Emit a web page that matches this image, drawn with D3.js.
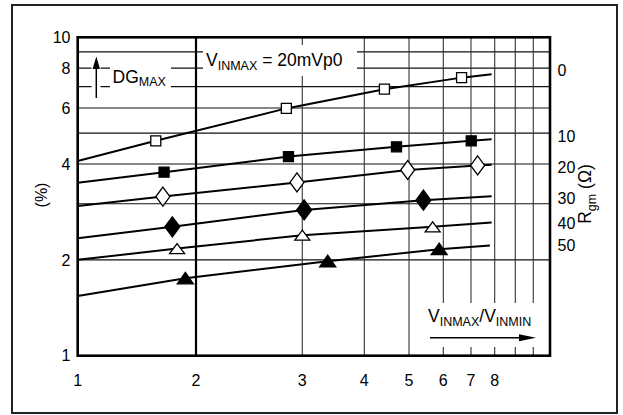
<!DOCTYPE html>
<html><head><meta charset="utf-8">
<script src="https://cdn.jsdelivr.net/npm/d3@7"></script>
<style>body{margin:0;background:#fff}svg{display:block}text{font-family:"Liberation Sans",Arial,sans-serif;fill:#000}</style>
</head><body><svg id="c" width="623" height="415"></svg>
<script>
// ---- data ----
const xTickLabels = [1,2,3,4,5,6,7,8];
const xGridValues = [2,3,4,5,6,7,8,9,10];
const yTickLabels = [1,2,4,6,8,10];
const yGridValues = [2,3,4,5,6,7,8,9];
const rgmLabels = ["0","10","20","30","40","50"];
const rgmLevels = [7.9,4.9,3.92,3.13,2.6,2.23];
const startX = [1,1,1,1,1,1];
const startY = [4.09,3.49,2.95,2.34,2.0,1.54];
const markerX = [[1.66,2.85,4.45,6.66],[1.73,2.87,4.72,7.01],[1.72,2.95,4.97,7.28],[1.80,3.03,5.42],[1.84,3.0,5.69],[1.91,3.41,5.88]];
const markerY = [[4.73,5.98,6.87,7.47],[3.77,4.22,4.53,4.73],[3.16,3.50,3.83,3.96],[2.54,2.87,3.08],[2.17,2.39,2.54],[1.75,1.98,2.16]];
const endX = [7.87,7.87,7.87,7.87,7.87,7.80];
const endY = [7.65,4.78,3.98,3.17,2.62,2.22];
const markerType = ["sqOpen","sqFill","diaOpen","diaFill","triOpen","triFill"];

// ---- layout ----
const L=77.7,R=550,T=37.3,B=355.7,W=R-L;
const xDomain=[1,2,3,4,5,6,7,8,9,10,11];
const xFrac=[0,.2505,.4755,.6068,.7015,.7741,.8327,.8829,.9265,.9646,1];
const x=d3.scaleLinear().domain(xDomain).range(xFrac.map(f=>L+f*W));
const y=d3.scaleLog().domain([1,10]).range([B,T]);
const svg=d3.select("#c");
const FM=17.5, FS=12.5;

// outer frame
svg.append("rect").attr("x",12).attr("y",5).attr("width",605).attr("height",408)
  .attr("fill","#fff").attr("stroke","#222").attr("stroke-width",2);

// grid
const g=svg.append("g");
g.selectAll(".hg").data(yGridValues).join("line")
  .attr("x1",L).attr("x2",R).attr("y1",d=>y(d)).attr("y2",d=>y(d))
  .attr("stroke","#111").attr("stroke-width",1.1);
g.selectAll(".vg").data(xGridValues).join("line")
  .attr("x1",d=>x(d)).attr("x2",d=>x(d)).attr("y1",T).attr("y2",B)
  .attr("stroke",d=>d===2?"#000":"#333").attr("stroke-width",d=>d===2?2.2:1.1);

// white boxes for labels
function wbox(x0,y0,x1,y1){svg.append("rect").attr("x",x0).attr("y",y0).attr("width",x1-x0).attr("height",y1-y0).attr("fill","#fff");}
wbox(110,60,171,96);
wbox(91.5,57,100.5,99);
wbox(203,45,357,76);
wbox(416,303,546,347);

// DG_MAX label + arrow
svg.append("line").attr("x1",96.3).attr("x2",96.3).attr("y1",66).attr("y2",98).attr("stroke","#000").attr("stroke-width",1.5);
svg.append("path").attr("d","M96.3,56.5L100,69L92.6,69Z").attr("fill","#000");
const dg=svg.append("text").attr("x",112.5).attr("y",83).attr("font-size",FM);
dg.append("tspan").text("DG");
dg.append("tspan").attr("font-size",FS).attr("dy",3).text("MAX");

// VINMAX = 20mVp0
const vt=svg.append("text").attr("x",206).attr("y",65.5).attr("font-size",FM);
vt.append("tspan").text("V");
vt.append("tspan").attr("font-size",FS).attr("dy",4.5).text("INMAX");
vt.append("tspan").attr("dy",-4.5).text(" = 20mVp0");

// VINMAX/VINMIN with arrow
const vr=svg.append("text").attr("x",428).attr("y",321.5).attr("font-size",FM);
vr.append("tspan").text("V");
vr.append("tspan").attr("font-size",FS).attr("dy",4.5).text("INMAX");
vr.append("tspan").attr("dy",-4.5).text("/V");
vr.append("tspan").attr("font-size",FS).attr("dy",4.5).text("INMIN");
svg.append("line").attr("x1",430).attr("x2",522).attr("y1",337.7).attr("y2",337.7).attr("stroke","#000").attr("stroke-width",1.4);
svg.append("path").attr("d","M536,337.7L519,334.2L519,341.2Z").attr("fill","#000");

// series lines
const line=d3.line().x(d=>x(d[0])).y(d=>y(d[1]));
markerX.forEach((mx,i)=>{
  const pts=[[startX[i],startY[i]]].concat(mx.map((v,j)=>[v,markerY[i][j]])).concat([[endX[i],endY[i]]]);
  svg.append("path").attr("d",line(pts)).attr("fill","none").attr("stroke","#000").attr("stroke-width",2);
});
// markers
const shapes={
  sqOpen:{d:"M-5,-5h10v10h-10Z",fill:"#fff"},
  sqFill:{d:"M-5,-5h10v10h-10Z",fill:"#000"},
  diaOpen:{d:"M0,-9.5L7,0L0,9.5L-7,0Z",fill:"#fff"},
  diaFill:{d:"M0,-10L7.5,0L0,10L-7.5,0Z",fill:"#000"},
  triOpen:{d:"M0,-5L7.5,5L-7.5,5Z",fill:"#fff"},
  triFill:{d:"M0,-6L8,5.5L-8,5.5Z",fill:"#000"}
};
markerX.forEach((mx,i)=>{
  const s=shapes[markerType[i]];
  svg.selectAll(null).data(mx.map((v,j)=>[v,markerY[i][j]])).join("path")
    .attr("d",s.d).attr("transform",d=>`translate(${x(d[0])},${y(d[1])})`)
    .attr("fill",s.fill).attr("stroke","#000").attr("stroke-width",1.3);
});

// plot frame
svg.append("rect").attr("x",L).attr("y",T).attr("width",W).attr("height",B-T)
  .attr("fill","none").attr("stroke","#000").attr("stroke-width",2.6);

// ticks labels
svg.selectAll(".yl").data(yTickLabels).join("text")
  .attr("x",70.5).attr("y",d=>y(d)).attr("dy","0.36em").attr("text-anchor","end").attr("font-size",16).text(d=>d);
svg.selectAll(".xl").data(xTickLabels).join("text")
  .attr("x",d=>x(d)).attr("y",385.5).attr("text-anchor","middle").attr("font-size",16).text(d=>d);
svg.selectAll(".rl").data(rgmLabels).join("text")
  .attr("x",557.5).attr("y",(d,i)=>y(rgmLevels[i])).attr("dy","0.36em").attr("font-size",16).text(d=>d);

// axis titles
svg.append("text").attr("transform","translate(41.7,195) rotate(-90)").attr("text-anchor","middle").attr("dy","0.36em").attr("font-size",16).text("(%)");
const rt=svg.append("text").attr("transform","translate(585,194) rotate(-90)").attr("text-anchor","middle").attr("dy","0.36em").attr("font-size",FM);
rt.append("tspan").text("R");
rt.append("tspan").attr("font-size",FS).attr("dy",4.5).text("gm");
rt.append("tspan").attr("dy",-4.5).text(" (Ω)");
</script></body></html>
